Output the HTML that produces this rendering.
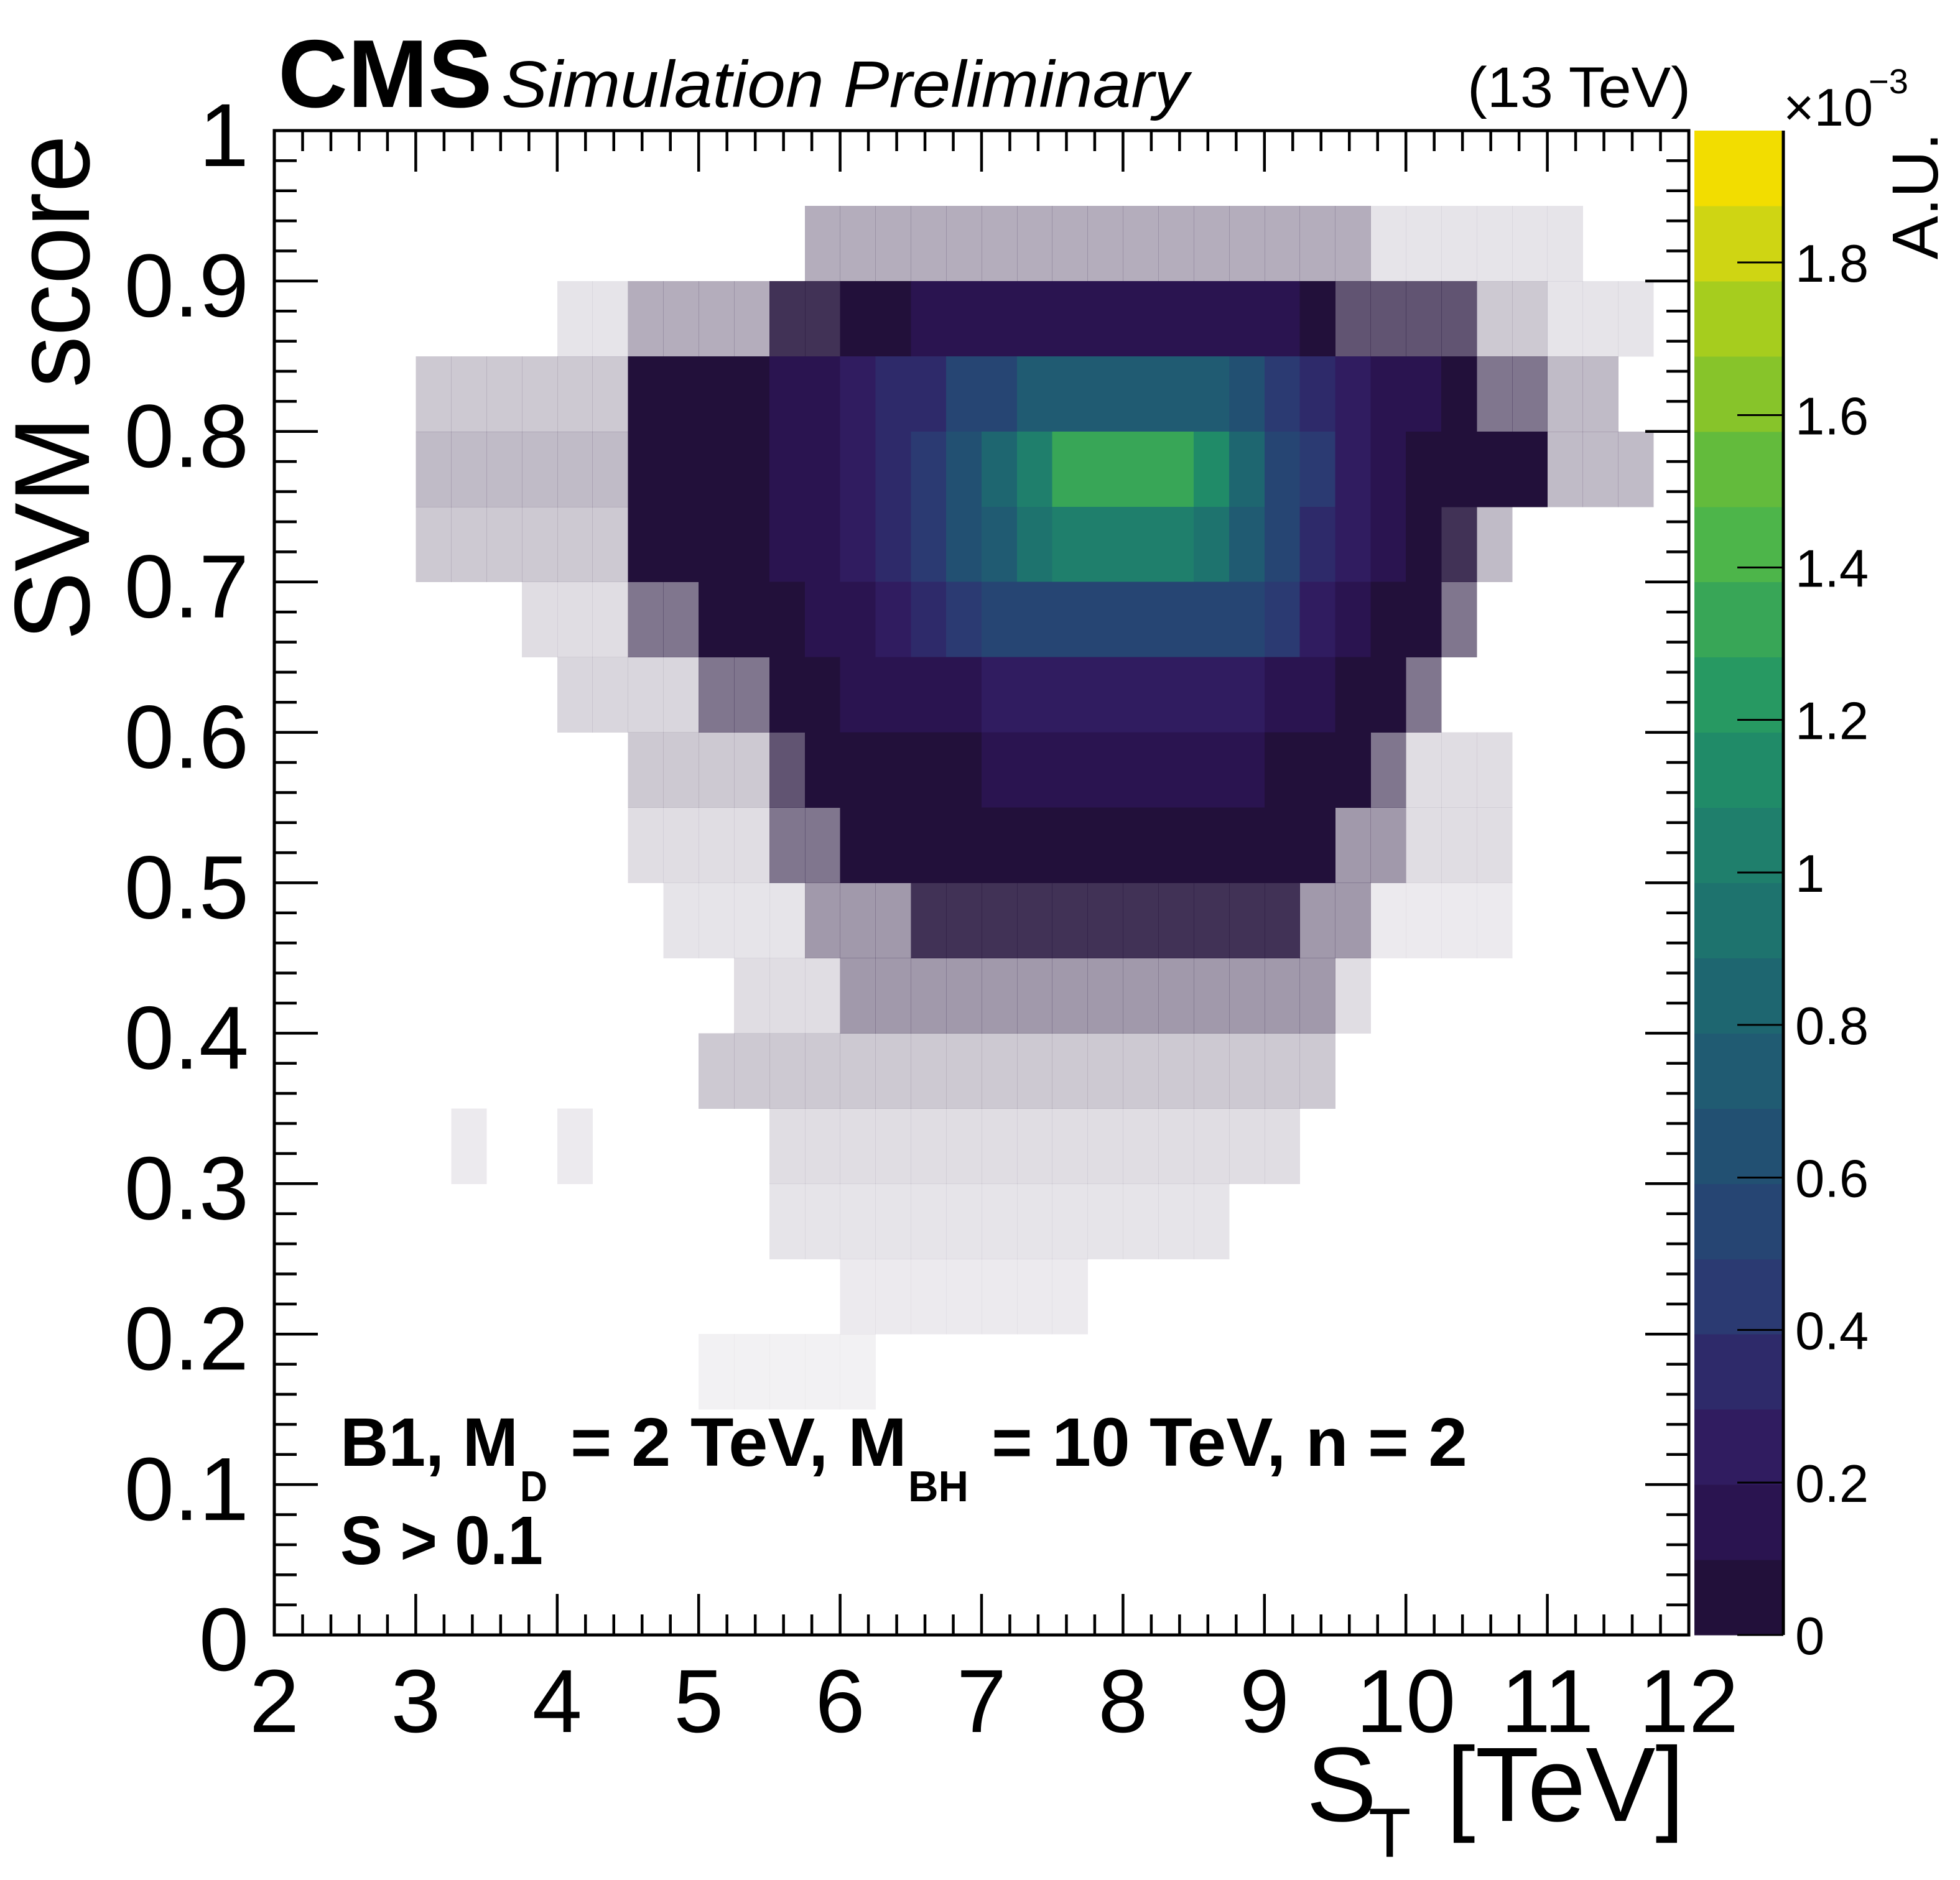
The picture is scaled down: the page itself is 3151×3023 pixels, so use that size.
<!DOCTYPE html>
<html><head><meta charset="utf-8"><style>
html,body{margin:0;padding:0;background:#fff;}
svg{display:block;font-family:"Liberation Sans",Arial,sans-serif;}
</style></head><body>
<svg id="chart" width="3151" height="3023" viewBox="0 0 3151 3023" xmlns="http://www.w3.org/2000/svg">
<rect x="0" y="0" width="3151" height="3023" fill="#fff"/>
<g id="cells" shape-rendering="crispEdges"></g>
<g id="axes"></g>
<g id="palette" shape-rendering="crispEdges"></g>
<text x="447" y="172" font-size="155" font-weight="bold">CMS</text>
<text x="806" y="172" font-size="106" font-style="italic" textLength="1105" lengthAdjust="spacingAndGlyphs">Simulation Preliminary</text>
<text x="2359" y="172" font-size="92" textLength="359" lengthAdjust="spacingAndGlyphs">(13 TeV)</text>
<g>
<text x="2100" y="2928" font-size="170">S</text>
<text x="2200" y="2986" font-size="112">T</text>
<text x="2325" y="2928" font-size="170" textLength="383" lengthAdjust="spacingAndGlyphs">[TeV]</text>
</g>
<text transform="translate(143,217) rotate(-90)" text-anchor="end" font-size="172" textLength="813" lengthAdjust="spacingAndGlyphs">SVM score</text>
<text transform="translate(3115,213) rotate(-90)" text-anchor="end" font-size="105">A.U.</text>
<g>
<text x="2867" y="202" font-size="85">×10</text>
<text x="3004" y="150" font-size="56">−3</text>
</g>
<g font-weight="bold">
<text x="547" y="2357" font-size="110" textLength="286" lengthAdjust="spacingAndGlyphs">B1, M</text>
<text x="836" y="2414" font-size="70" textLength="44" lengthAdjust="spacingAndGlyphs">D</text>
<text x="917" y="2357" font-size="110" textLength="541" lengthAdjust="spacingAndGlyphs">= 2 TeV, M</text>
<text x="1460" y="2414" font-size="70" textLength="97" lengthAdjust="spacingAndGlyphs">BH</text>
<text x="1594" y="2357" font-size="110" textLength="765" lengthAdjust="spacingAndGlyphs">= 10 TeV, n = 2</text>
<text x="547" y="2515" font-size="110" textLength="326" lengthAdjust="spacingAndGlyphs">S &gt; 0.1</text>
</g>
</svg>
<script>
const xTicks = [2,3,4,5,6,7,8,9,10,11,12];
const yTicks = [0,0.1,0.2,0.3,0.4,0.5,0.6,0.7,0.8,0.9,1];
const yTickLabels = ["0","0.1","0.2","0.3","0.4","0.5","0.6","0.7","0.8","0.9","1"];
const zTicks = [0,0.2,0.4,0.6,0.8,1.0,1.2,1.4,1.6,1.8];
const zTickLabels = ["0","0.2","0.4","0.6","0.8","1","1.2","1.4","1.6","1.8"];
const paletteColors = ["#22103a","#2a1450","#301c60","#2e2a6a","#2b3a72","#264573","#225072","#205b72","#1e6670","#1e736e","#1f7f6c","#208b68","#279962","#38a657","#4db54a","#63bb3c","#87c42a","#a6cd1e","#cfd513","#f2dd00"];
const zMax = 1.973;
const xBinWidth = 0.25;
const yBinWidth = 0.05;
// rows from top (SVM 0.95-1.00) to bottom (0.00-0.05); 40 columns of S_T from 2 to 12 TeV; units of 1e-3
const row95 = [0,0,0,0,0,0,0,0,0,0,0,0,0,0,0,0,0,0,0,0,0,0,0,0,0,0,0,0,0,0,0,0,0,0,0,0,0,0,0,0];
const row90 = [0,0,0,0,0,0,0,0,0,0,0,0,0,0,0,.012,.012,.012,.012,.012,.012,.012,.012,.012,.012,.012,.012,.012,.012,.012,.012,.004,.004,.004,.004,.004,.004,0,0,0];
const row85 = [0,0,0,0,0,0,0,0,.004,.004,.012,.012,.012,.012,.03,.03,.07,.07,.15,.18,.18,.18,.18,.18,.18,.18,.18,.15,.12,.07,.025,.025,.025,.025,.008,.008,.004,.004,.004,0];
const row80 = [0,0,0,0,.008,.008,.008,.008,.008,.008,.04,.04,.04,.06,.1,.1,.2,.35,.35,.55,.55,.75,.75,.75,.75,.75,.75,.6,.45,.3,.2,.1,.1,.06,.02,.02,.01,.01,0,0];
const row75 = [0,0,0,0,.01,.01,.01,.01,.01,.01,.04,.04,.06,.06,.12,.12,.2,.3,.45,.6,.8,1.0,1.3,1.35,1.35,1.3,1.1,.8,.55,.4,.25,.15,.08,.08,.04,.04,.01,.01,.01,0];
const row70 = [0,0,0,0,.008,.008,.008,.008,.008,.008,.035,.035,.06,.06,.1,.15,.2,.3,.45,.6,.75,.9,1.0,1.0,1.0,1.0,.9,.7,.55,.38,.2,.12,.06,.03,.01,0,0,0,0,0];
const row65 = [0,0,0,0,0,0,0,.005,.005,.005,.02,.02,.04,.04,.07,.1,.15,.2,.3,.4,.5,.5,.5,.5,.5,.5,.5,.5,.4,.25,.15,.08,.04,.02,0,0,0,0,0,0];
const row60 = [0,0,0,0,0,0,0,0,.006,.006,.006,.006,.02,.02,.04,.06,.1,.1,.12,.15,.2,.2,.2,.2,.2,.2,.2,.2,.15,.12,.08,.05,.02,0,0,0,0,0,0,0];
const row55 = [0,0,0,0,0,0,0,0,0,0,.008,.008,.008,.008,.025,.04,.06,.08,.08,.08,.1,.1,.1,.1,.1,.1,.1,.1,.08,.08,.04,.02,.005,.005,.005,0,0,0,0,0];
const row50 = [0,0,0,0,0,0,0,0,0,0,.005,.005,.005,.005,.02,.02,.04,.04,.06,.06,.06,.06,.06,.06,.06,.06,.06,.06,.06,.04,.015,.015,.005,.005,.005,0,0,0,0,0];
const row45 = [0,0,0,0,0,0,0,0,0,0,0,.004,.004,.004,.004,.015,.015,.015,.03,.03,.03,.03,.03,.03,.03,.03,.03,.03,.03,.015,.015,.003,.003,.003,.003,0,0,0,0,0];
const row40 = [0,0,0,0,0,0,0,0,0,0,0,0,0,.005,.005,.005,.015,.015,.015,.015,.015,.015,.015,.015,.015,.015,.015,.015,.015,.015,.005,0,0,0,0,0,0,0,0,0];
const row35 = [0,0,0,0,0,0,0,0,0,0,0,0,.008,.008,.008,.008,.008,.008,.008,.008,.008,.008,.008,.008,.008,.008,.008,.008,.008,.008,0,0,0,0,0,0,0,0,0,0];
const row30 = [0,0,0,0,0,.003,0,0,.003,0,0,0,0,0,.005,.005,.005,.005,.005,.005,.005,.005,.005,.005,.005,.005,.005,.005,.005,0,0,0,0,0,0,0,0,0,0,0];
const row25 = [0,0,0,0,0,0,0,0,0,0,0,0,0,0,.004,.004,.004,.004,.004,.004,.004,.004,.004,.004,.004,.004,.004,0,0,0,0,0,0,0,0,0,0,0,0,0];
const row20 = [0,0,0,0,0,0,0,0,0,0,0,0,0,0,0,0,.003,.003,.003,.003,.003,.003,.003,0,0,0,0,0,0,0,0,0,0,0,0,0,0,0,0,0];
const row15 = [0,0,0,0,0,0,0,0,0,0,0,0,.002,.002,.002,.002,.002,0,0,0,0,0,0,0,0,0,0,0,0,0,0,0,0,0,0,0,0,0,0,0];
const row10 = [0,0,0,0,0,0,0,0,0,0,0,0,0,0,0,0,0,0,0,0,0,0,0,0,0,0,0,0,0,0,0,0,0,0,0,0,0,0,0,0];
const row05 = [0,0,0,0,0,0,0,0,0,0,0,0,0,0,0,0,0,0,0,0,0,0,0,0,0,0,0,0,0,0,0,0,0,0,0,0,0,0,0,0];
const row00 = [0,0,0,0,0,0,0,0,0,0,0,0,0,0,0,0,0,0,0,0,0,0,0,0,0,0,0,0,0,0,0,0,0,0,0,0,0,0,0,0];
const rows = [row95,row90,row85,row80,row75,row70,row65,row60,row55,row50,row45,row40,row35,row30,row25,row20,row15,row10,row05,row00];

const NS = "http://www.w3.org/2000/svg";
const X0 = 441, X1 = 2715, Y0 = 2629, Y1 = 210;
function xs(v){ return X0 + (v - 2) / 10 * (X1 - X0); }
function ys(v){ return Y0 - v * (Y0 - Y1); }
const PX0 = 2724, PX1 = 2867;
function zs(v){ return Y0 - v / zMax * (Y0 - Y1); }
function mk(tag, attrs, parent){ const e = document.createElementNS(NS, tag); for (const k in attrs) e.setAttribute(k, attrs[k]); parent.appendChild(e); return e; }

const cells = document.getElementById('cells');
rows.forEach((row, ri) => {
  const yTop = 1 - ri * yBinWidth;
  row.forEach((v, ci) => {
    if (v <= 0) return;
    const xl = 2 + ci * xBinWidth;
    const band = Math.min(19, Math.floor(v / (zMax / 20)));
    const op = Math.min(1, v / 0.035);
    const r = mk('rect', {x: xs(xl), y: ys(yTop), width: xs(xl + xBinWidth) - xs(xl) + 0.5, height: ys(yTop - yBinWidth) - ys(yTop) + 0.5, fill: paletteColors[band], 'fill-opacity': op}, cells);
    
    
  });
});

const axes = document.getElementById('axes');
const frame = mk('rect', {x: X0, y: Y1, width: X1 - X0, height: Y0 - Y1, fill: 'none', stroke: '#000', 'stroke-width': 5}, axes);


for (let i = 0; i < xTicks.length; i++) {
  const v = xTicks[i];
  for (const [y, d] of [[Y0, -1], [Y1, 1]]) {
    const t = mk('line', {x1: xs(v), x2: xs(v), y1: y, y2: y + d * 66, stroke: '#000', 'stroke-width': 4.5}, axes);
    
    
    if (i < xTicks.length - 1) for (let k = 1; k < 5; k++) {
      const mv = v + k * 0.2;
      const m = mk('line', {x1: xs(mv), x2: xs(mv), y1: y, y2: y + d * 33, stroke: '#000', 'stroke-width': 4.5}, axes);
      
      
    }
  }
  const lb = mk('text', {x: xs(v), y: 2785, 'font-size': 144, 'text-anchor': 'middle'}, axes);
  lb.textContent = String(v);
  
  
}
for (let i = 0; i < yTicks.length; i++) {
  const v = yTicks[i];
  for (const [x, d] of [[X0, 1], [X1, -1]]) {
    const t = mk('line', {x1: x, x2: x + d * 70, y1: ys(v), y2: ys(v), stroke: '#000', 'stroke-width': 4.5}, axes);
    
    
    if (i < yTicks.length - 1) for (let k = 1; k < 5; k++) {
      const mv = v + k * 0.02;
      const m = mk('line', {x1: x, x2: x + d * 36, y1: ys(mv), y2: ys(mv), stroke: '#000', 'stroke-width': 4.5}, axes);
      
      
    }
  }
  const lb = mk('text', {x: 400, y: ys(v) + 57, 'font-size': 144, 'text-anchor': 'end'}, axes);
  lb.textContent = yTickLabels[i];
  
  
}

const pal = document.getElementById('palette');
paletteColors.forEach((c, i) => {
  const r = mk('rect', {x: PX0, y: zs((i + 1) * zMax / 20), width: PX1 - PX0, height: zs(i * zMax / 20) - zs((i + 1) * zMax / 20) + 0.5, fill: c}, pal);
  
  
});
const pl = mk('line', {x1: PX1, x2: PX1, y1: Y1, y2: Y0, stroke: '#000', 'stroke-width': 5}, pal);


zTicks.forEach((v, i) => {
  const t = mk('line', {x1: PX1, x2: PX1 - 74, y1: zs(v), y2: zs(v), stroke: '#000', 'stroke-width': 3}, pal);
  
  
  const lb = mk('text', {x: 2886, y: zs(v) + 31, 'font-size': 85}, pal);
  lb.textContent = zTickLabels[i];
  
  
});
</script>
</body></html>
